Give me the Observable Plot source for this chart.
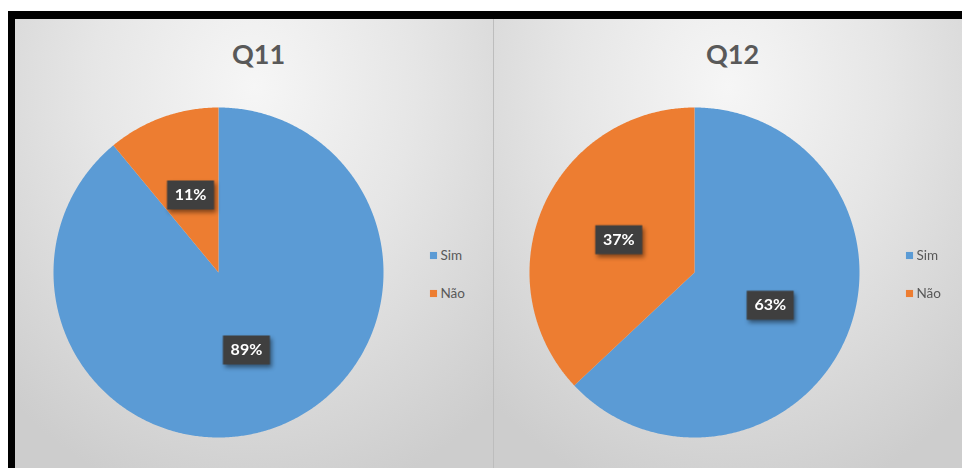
<!DOCTYPE html>
<html>
<head>
<meta charset="utf-8">
<script src="https://cdn.jsdelivr.net/npm/d3@7"></script>
<script src="https://cdn.jsdelivr.net/npm/@observablehq/plot@0.6"></script>
<style>
  html, body { margin: 0; padding: 0; background: #fff; }
  body { width: 962px; height: 468px; overflow: hidden; position: relative; font-family: Lato, "Open Sans", sans-serif; }
  #frame { position: absolute; left: 8px; top: 11px; width: 954px; height: 457px; background: #000; }
  .panel { position: absolute; top: 8px; height: 449px;
    background: radial-gradient(ellipse 75% 95% at 50% 15%, #f6f6f6 0%, #e6e6e6 45%, #cdcdcd 100%); }
  #p1 { left: 7px; width: 478px; border-right: 1px solid #bdbdbd; }
  #p2 { left: 486px; width: 468px; }
  .panel svg { display: block; background: transparent; }
</style>
</head>
<body>
<div id="frame">
  <div class="panel" id="p1"></div>
  <div class="panel" id="p2"></div>
</div>
<script>
// ---- data ----
const titles = ["Q11", "Q12"];
const categories = ["Sim", "Não"];
const q11Values = [89, 11];
const q12Values = [63, 37];
const q11Labels = ["89%", "11%"];
const q12Labels = ["63%", "37%"];
const colors = ["#5B9BD5", "#ED7D31"];

// rectangular symbol for data-label boxes
const boxSymbol = { draw(ctx) { ctx.rect(-23.5, -14.5, 47, 29); } };

function buildPie(values, labels) {
  const total = d3.sum(values);
  const pie = d3.pie().sort(null).value(d => d)(values);
  const pts = [];
  const labs = [];
  pie.forEach((s, i) => {
    const cat = categories[i];
    pts.push({x: 0, y: 0, cat});
    const n = Math.max(2, Math.ceil((s.endAngle - s.startAngle) / (Math.PI / 360)));
    for (let k = 0; k <= n; k++) {
      const a = s.startAngle + (s.endAngle - s.startAngle) * k / n;
      pts.push({x: Math.sin(a), y: Math.cos(a), cat});
    }
    const m = (s.startAngle + s.endAngle) / 2;
    labs.push({x: 0.5 * Math.sin(m), y: 0.5 * Math.cos(m), label: labels[i], share: values[i] / total});
  });
  return {pts, labs};
}

function chart(title, values, labels, w, h, ml, mr, titleDx) {
  const {pts, labs} = buildPie(values, labels);
  return Plot.plot({
    width: w, height: h,
    marginLeft: ml, marginRight: mr, marginTop: 88, marginBottom: 31,
    x: {domain: [-1, 1], axis: null},
    y: {domain: [-1, 1], axis: null},
    color: {domain: categories, range: colors},
    style: {background: "transparent", overflow: "visible"},
    marks: [
      Plot.line(pts, {x: "x", y: "y", z: "cat", fill: "cat", stroke: "none", curve: "linear-closed"}),
      Plot.dot(labs, {x: "x", y: "y", symbol: boxSymbol, r: 10, fill: "#3f3f3f", stroke: "none",
        imageFilter: "drop-shadow(2px 3px 2px rgba(0,0,0,0.45))"}),
      Plot.text(labs, {x: "x", y: "y", text: "label", fill: "white", fontSize: 16, fontWeight: "bold",
        fontFamily: "Lato, 'Open Sans', sans-serif"}),
      Plot.text([title], {frameAnchor: "top", dx: titleDx, dy: -44, lineAnchor: "bottom", text: d => d,
        fill: "#595959", fontSize: 27, fontWeight: "bold", fontFamily: "Lato, 'Open Sans', sans-serif"}),
      ...categories.map((c, i) => Plot.dot([c], {frameAnchor: "right", dx: 50, dy: -17 + i * 38,
        symbol: "square", r: 4, fill: colors[i], stroke: "none"})),
      ...categories.map((c, i) => Plot.text([c], {frameAnchor: "right", dx: 57, dy: -17 + i * 38,
        text: d => d, textAnchor: "start", fill: "#595959", fontSize: 13.5,
        fontFamily: "Lato, 'Open Sans', sans-serif"}))
    ]
  });
}

document.getElementById("p1").append(chart(titles[0], q11Values, q11Labels, 478, 449, 38, 110, 40));
document.getElementById("p2").append(chart(titles[1], q12Values, q12Labels, 468, 449, 35, 103, 38));
</script>
</body>
</html>
